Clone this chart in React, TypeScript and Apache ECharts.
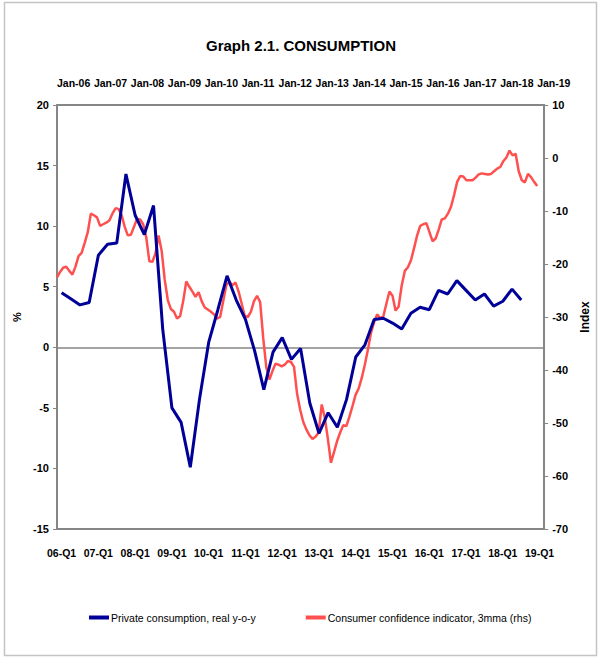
import React, { useEffect, useRef } from "react";
import * as echarts from "echarts";

// Bottom category axis: quarters 06-Q1 ... 19-Q1
const quarterLabels: string[] = [];
for (let y = 6; y <= 19; y++) {
  for (let q = 1; q <= 4; q++) {
    if (y === 19 && q > 1) break;
    quarterLabels.push(`${String(y).padStart(2, "0")}-Q${q}`);
  }
}

// Private consumption, real y-o-y (%), 06-Q1 ... 18-Q3
const privateConsumption = [
  4.5, 4.0, 3.5, 3.7,
  7.6, 8.5, 8.6, 14.3,
  10.9, 9.3, 11.7, 1.5,
  -5.0, -6.2, -9.9, -4.3,
  0.4, 3.1, 5.9, 3.9,
  2.3, -0.3, -3.5, -0.4,
  0.8, -1.0, -0.1, -4.6,
  -7.1, -5.4, -6.6, -4.3,
  -0.8, 0.2, 2.3, 2.4,
  2.0, 1.5, 2.8, 3.3,
  3.1, 4.7, 4.4, 5.5,
  4.7, 3.9, 4.4, 3.4,
  3.8, 4.8, 3.9,
];

// Consumer confidence indicator, 3mma (index), monthly from Jan-06
const confidenceStartYear = 2006;
const consumerConfidence = [
  // 2006
  -22.5, -21.5, -20.7, -20.5, -21.3, -22.0, -20.5, -18.5, -17.9, -16.0, -14.0, -10.5,
  // 2007
  -10.8, -11.2, -12.8, -12.5, -12.2, -11.8, -10.5, -9.5, -9.6, -10.8, -13.0, -14.6,
  // 2008
  -14.5, -13.0, -11.5, -11.6, -12.5, -15.0, -19.5, -19.6, -18.0, -14.6, -17.5, -23.0,
  // 2009
  -26.8, -28.5, -29.0, -30.3, -29.8, -27.0, -23.3, -24.3, -25.2, -26.2, -25.3, -27.0,
  // 2010
  -28.2, -28.6, -29.0, -29.5, -30.3, -30.0, -27.0, -24.0, -23.3, -24.0, -23.5, -25.2,
  // 2011
  -27.5, -29.8, -30.0, -29.0, -27.0, -26.0, -27.2, -34.0, -39.5, -41.8, -40.2, -38.8,
  // 2012
  -39.0, -39.3, -39.0, -38.3, -38.5, -39.4, -44.5, -47.5, -49.8, -51.2, -52.3, -53.0,
  // 2013
  -52.6, -51.8, -46.5, -49.0, -53.0, -57.5, -55.5, -53.4, -51.8, -50.4, -50.6, -48.8,
  // 2014
  -46.8, -44.7, -43.5, -41.5, -39.0, -36.2, -33.0, -31.0, -29.5, -30.2, -29.9, -27.5,
  // 2015
  -25.2, -26.0, -28.8, -28.0, -24.0, -21.3, -20.6, -19.3, -17.0, -14.6, -12.8, -12.5,
  // 2016
  -12.3, -14.0, -15.7, -15.2, -13.5, -11.6, -11.4, -10.5, -9.2, -7.0, -4.5, -3.4,
  // 2017
  -3.5, -4.2, -4.2, -4.2, -3.7, -3.1, -2.9, -3.0, -3.1, -3.0, -2.5, -2.0,
  // 2018
  -1.7, -0.6, 0.1, 1.4, 0.5, 0.8, -2.5, -4.2, -4.6, -3.0, -3.6, -4.5,
  // 2019
  -5.3,
];

// Top axis tick labels (January of each year)
const topTickYears = [2006, 2007, 2008, 2009, 2010, 2011, 2012, 2013, 2014, 2015, 2016, 2017, 2018, 2019];

const FONT = "'Liberation Sans', Arial, sans-serif";
const AXIS_GRAY = "#868686";
const BLUE = "#000099";
const RED = "#FF5050";

const labelStyle = { fontFamily: FONT, fontSize: 11, fontWeight: "bold" as const, color: "#000" };
const xLabelStyle = { ...labelStyle, fontSize: 10.5 };

export default function App() {
  const ref = useRef<HTMLDivElement>(null);

  useEffect(() => {
    document.body.style.margin = "0";
    if (!ref.current) return;
    const chart = echarts.init(ref.current, undefined, { renderer: "svg" });

    const confidenceData = consumerConfidence.map((v, m) => [confidenceStartYear + m / 12, v]);

    chart.setOption({
      animation: false,
      backgroundColor: "#fff",
      textStyle: { fontFamily: FONT },
      title: {
        text: "Graph 2.1. CONSUMPTION",
        left: 201,
        top: 33,
        textStyle: { fontFamily: FONT, fontSize: 15, fontWeight: "bold", color: "#000" },
      },
      graphic: [
        {
          type: "rect",
          shape: { x: 4.5, y: 2.5, width: 592, height: 653 },
          style: { fill: "none", stroke: "#C4C4C4", lineWidth: 1.5 },
          silent: true,
          z: -1,
        },
      ],
      grid: { left: 57, right: 53, top: 105, bottom: 129 },
      legend: {
        left: 84,
        top: 607,
        width: 520,
        itemGap: 50,
        itemWidth: 20,
        itemHeight: 4,
        textStyle: { fontFamily: FONT, fontSize: 10.5, color: "#000", padding: [0, 0, 0, -3] },
        data: [
          { name: "Private consumption, real y-o-y", icon: "rect" },
          { name: "Consumer confidence indicator, 3mma (rhs)", icon: "rect" },
        ],
      },
      xAxis: [
        {
          type: "category",
          data: quarterLabels,
          position: "bottom",
          boundaryGap: true,
          axisLine: { show: true, onZero: false, lineStyle: { color: AXIS_GRAY, width: 2 } },
          axisTick: { show: false },
          splitLine: { show: false },
          axisLabel: { ...xLabelStyle, interval: 3, margin: 18 },
        },
        {
          type: "value",
          position: "top",
          min: 2006,
          max: 2019.19,
          axisLine: { show: true, onZero: false, lineStyle: { color: AXIS_GRAY, width: 2 } },
          axisTick: { show: false },
          splitLine: { show: false },
          axisLabel: {
            ...xLabelStyle,
            customValues: topTickYears,
            align: "left",
            margin: 17,
            hideOverlap: false,
            formatter: (v: number) => "Jan-" + String(Math.round(v) % 100).padStart(2, "0"),
          },
        },
      ],
      yAxis: [
        {
          type: "value",
          position: "left",
          min: -15,
          max: 20,
          interval: 5,
          axisLine: { show: true, onZero: false, lineStyle: { color: AXIS_GRAY, width: 2 } },
          axisTick: { show: true, length: 4, lineStyle: { color: AXIS_GRAY, width: 1 } },
          splitLine: { show: false },
          axisLabel: { ...labelStyle, margin: 8 },
          name: "%",
          nameLocation: "middle",
          nameGap: 30,
          nameRotate: 90,
          nameTextStyle: { ...labelStyle },
        },
        {
          type: "value",
          position: "right",
          min: -70,
          max: 10,
          interval: 10,
          axisLine: { show: true, onZero: false, lineStyle: { color: AXIS_GRAY, width: 2 } },
          axisTick: { show: true, length: 4, lineStyle: { color: AXIS_GRAY, width: 1 } },
          splitLine: { show: false },
          axisLabel: { ...labelStyle, margin: 8 },
          name: "Index",
          nameLocation: "middle",
          nameGap: 28,
          nameRotate: 90,
          nameTextStyle: { ...labelStyle, fontSize: 12 },
        },
      ],
      series: [
        {
          name: "Private consumption, real y-o-y",
          type: "line",
          xAxisIndex: 0,
          yAxisIndex: 0,
          data: privateConsumption,
          symbol: "none",
          color: BLUE,
          lineStyle: { color: BLUE, width: 3 },
          z: 3,
          markLine: {
            silent: true,
            symbol: ["none", "none"],
            label: { show: false },
            lineStyle: { color: AXIS_GRAY, width: 1.5, type: "solid" },
            data: [{ yAxis: 0 }],
            z: 1,
          },
        },
        {
          name: "Consumer confidence indicator, 3mma (rhs)",
          type: "line",
          xAxisIndex: 1,
          yAxisIndex: 1,
          data: confidenceData,
          symbol: "none",
          color: RED,
          lineStyle: { color: RED, width: 2.5 },
          z: 2,
        },
      ],
    });

    return () => chart.dispose();
  }, []);

  return <div ref={ref} style={{ width: 599, height: 658 }} />;
}
